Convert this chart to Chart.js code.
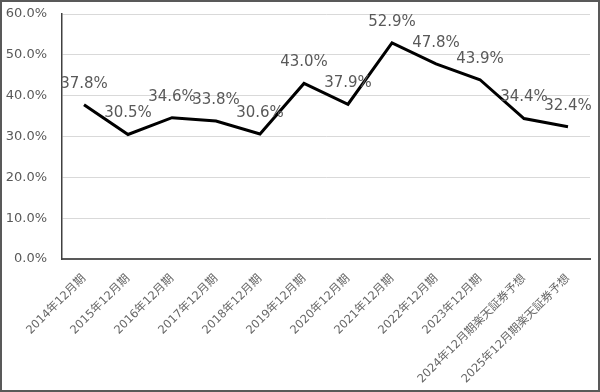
<!DOCTYPE html>
<html>
<head>
<meta charset="utf-8">
<script src="https://cdn.jsdelivr.net/npm/chart.js@4.4.1/dist/chart.umd.min.js"></script>
<style>
html,body{margin:0;padding:0;background:#fff;}
canvas{display:block;}
</style>
</head>
<body>
<canvas id="c" width="600" height="392"></canvas>
<script>
const categories = ["2014年12月期","2015年12月期","2016年12月期","2017年12月期","2018年12月期","2019年12月期","2020年12月期","2021年12月期","2022年12月期","2023年12月期","2024年12月期楽天証券予想","2025年12月期楽天証券予想"];
const ratioValues = [37.8, 30.5, 34.6, 33.8, 30.6, 43.0, 37.9, 52.9, 47.8, 43.9, 34.4, 32.4];
const yTicks = [0, 10, 20, 30, 40, 50, 60];

const labelPlugin = {
  id: 'valueLabels',
  afterDatasetsDraw(chart) {
    const ctx = chart.ctx;
    const meta = chart.getDatasetMeta(0);
    ctx.save();
    ctx.font = '15px "DejaVu Sans"';
    ctx.fillStyle = '#595959';
    ctx.textAlign = 'center';
    ctx.textBaseline = 'middle';
    meta.data.forEach((pt, i) => {
      ctx.fillText(ratioValues[i].toFixed(1) + '%', pt.x, pt.y - 21);
    });
    ctx.restore();
  }
};
const borderPlugin = {
  id: 'frame',
  afterDraw(chart) {
    const ctx = chart.ctx;
    ctx.save();
    ctx.strokeStyle = '#595959';
    ctx.lineWidth = 2;
    ctx.strokeRect(1, 1, chart.width - 2, chart.height - 2);
    ctx.restore();
  }
};

new Chart(document.getElementById('c'), {
  type: 'line',
  data: {
    labels: categories,
    datasets: [{
      data: ratioValues,
      borderColor: '#000000',
      borderWidth: 3,
      pointRadius: 0,
      tension: 0,
      fill: false
    }]
  },
  options: {
    responsive: false,
    animation: false,
    devicePixelRatio: 1,
    layout: { padding: { top: 14, right: 10, left: 0, bottom: 0 } },
    plugins: { legend: { display: false }, tooltip: { enabled: false } },
    scales: {
      x: {
        offset: true,
        grid: { display: false, drawTicks: false },
        border: { display: true, color: '#595959', width: 2 },
        ticks: {
          minRotation: 45, maxRotation: 45, autoSkip: false,
          padding: 13,
          color: '#666666',
          font: { family: '"DejaVu Sans", "Noto Sans CJK JP"', size: 11.5 }
        },
        afterFit(scale) { scale.height = 133; }
      },
      y: {
        min: 0, max: 60,
        afterBuildTicks(scale) { scale.ticks = yTicks.map(v => ({ value: v })); },
        grid: { color: '#d9d9d9', lineWidth: 1, drawTicks: false },
        border: { display: true, color: '#404040', width: 1.5 },
        ticks: {
          padding: 15,
          color: '#595959',
          font: { family: '"DejaVu Sans"', size: 13 },
          callback: v => v.toFixed(1) + '%'
        },
        afterFit(scale) { scale.width = 62; scale.paddingTop = 0; scale.paddingBottom = 0; }
      }
    }
  },
  plugins: [labelPlugin, borderPlugin]
});
</script>
</body>
</html>
